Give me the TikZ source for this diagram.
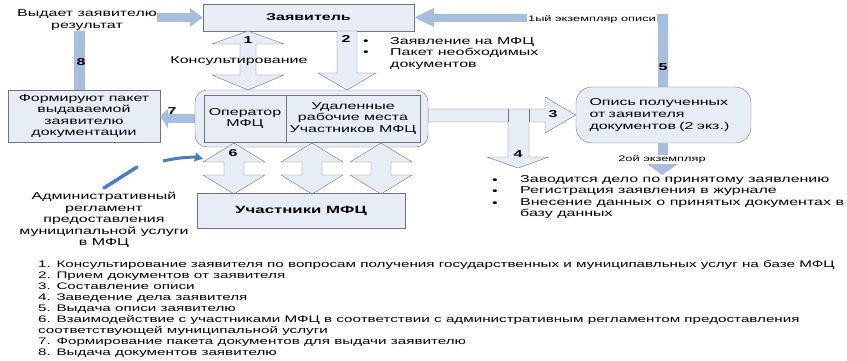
\documentclass[tikz,border=0pt]{standalone}
\usepackage{fontspec}
\setmainfont{Liberation Sans}[FakeStretch=1.6]
\usetikzlibrary{arrows.meta}
\definecolor{boxfill}{RGB}{231,237,247}
\definecolor{boxline}{RGB}{115,115,115}
\definecolor{barblue}{RGB}{168,190,222}
\definecolor{curveblue}{RGB}{74,126,194}

\begin{document}
\begin{tikzpicture}[x=1pt,y=-1pt,
    box/.style={draw=boxline, fill=boxfill, inner sep=0pt, align=center},
    blockarr/.style={draw=boxline, fill=boxfill, line join=miter},
    bar/.style={fill=barblue},
    num/.style={font=\bfseries\fontsize{10}{10}\selectfont, inner sep=0pt},
    txt/.style={font=\fontsize{10}{11.6}\selectfont, inner sep=0pt},
    tiny/.style={font=\fontsize{8}{8}\selectfont, inner sep=1pt}]
    \useasboundingbox (0,0) rectangle (847,361);
    %%Заявитель
    \node[box, minimum width=211, minimum height=27, font=\bfseries\fontsize{10}{10}\selectfont] (zayav) at (308.5,17.5) {Заявитель};
    \fill[bar] (157,13) -- (190,13) -- (190,8) -- (zayav.west) -- (190,27) -- (190,22) -- (157,22) -- cycle;
    \node[txt, align=center] (result) at (87,20) {Выдает заявителю\\результат};
    %%8
    \fill[bar] (74,31) rectangle (85,90);
    \node[num] (n8) at (81,62) {8};
    %%Формируют пакет
    \node[box, txt, minimum width=152, minimum height=52, align=center] (paket) at (84,116)
        {Формируют пакет\\выдаваемой\\заявителю\\документации};
    %%Оператор и удаленные места
    \node[num] (n7) at (172,111) {7};
    \fill[bar] (198,114) -- (168,114) -- (168,109) -- (paket.east) -- (168,129) -- (168,123) -- (198,123) -- cycle;
    \node[draw=boxline, fill=boxfill, rounded corners=12, minimum width=233, minimum height=57] (mfc) at (311.5,118.5) {};
    \node[box, txt, minimum width=82, minimum height=47] (oper) at (245,118.5) {Оператор\\МФЦ};
    \node[box, txt, minimum width=134, minimum height=47] (udal) at (353,118.5) {Удаленные\\рабочие места\\Участников МФЦ};
    %%1 Консультирование
    \draw[blockarr] (240,44) -- (212,44) -- (248,31) -- (284,44) -- (256,44) -- (256,75)
        -- (284,75) -- (248,90) -- (212,75) -- (240,75) -- cycle;
    \node[num] (n1) at (248,40) {1};
    \node[txt] (konsult) at (239,61) {Консультирование};
    %%2 прием документов
    \draw[blockarr] (337,31) -- (357,31) -- (357,73) -- (376,73) -- (347,90) -- (318,73) -- (337,73) -- cycle;
    \node[num] (n2) at (346,39) {2};
    \node[txt] (b21) at (366,42) {•};
    \node[txt] (b22) at (366,53) {•};
    \node[txt, anchor=west, align=left] (docs) at (390,53.5) {Заявление на МФЦ\\Пакет необходимых\\документов};
    %%1ый экземпляр, 5
    \fill[bar] (668,14) -- (668,88) -- (658,88) -- (658,22) -- (434,22) -- (434,27) -- (zayav.east) -- (434,8) -- (434,14) -- cycle;
    \node[tiny, fill=white] (ekz1) at (592,19) {1ый экземпляр описи};
    \node[num] (n5) at (663,67) {5};
    %%Опись
    \node[box, txt, rounded corners=16, minimum width=175, minimum height=56, text width=148, align=left] (opis) at (663.5,115)
        {Опись полученных\\от заявителя\\документов (2 экз.)};
    %%3 и 4
    \draw[blockarr] (mfc.east |- 0,109) -- (545,109) -- (545,97) -- (opis.west) -- (545,133) -- (545,122) -- (529,122)
        -- (529,157) -- (549,157) -- (518,168) -- (487,157) -- (508,157) -- (508,122) -- (mfc.east |- 0,122) -- cycle;
    \draw[boxline] (508,109) -- (508,122) (529,109) -- (529,122);
    \node[num] (n3) at (553,114) {3};
    \node[num] (n4) at (518,154) {4};
    %%2ой экземпляр
    \fill[bar] (658,143) rectangle (668,155);
    \node[tiny] (ekz2) at (662,159) {2ой экземпляр};
    \fill[bar] (647,164) -- (678,164) -- (662,175) -- cycle;
    \foreach \y in {181,192,204}
        \node[txt] at (495,\y) {•};
    \node[txt, anchor=north west, align=left] (delo) at (520,175)
        {Заводится дело по принятому заявлению\\Регистрация заявления в журнале\\Внесение данных о принятых документах в\\базу данных};
    %%6 Участники
    \foreach \cx in {234,312,381}
        \draw[blockarr] (\cx-10,162) -- (\cx-31,162) -- (\cx,143) -- (\cx+31,162) -- (\cx+10,162) -- (\cx+10,175)
            -- (\cx+31,175) -- (\cx,194) -- (\cx-31,175) -- (\cx-10,175) -- cycle;
    \node[num] (n6) at (233,153) {6};
    \node[box, minimum width=208, minimum height=35, font=\bfseries\fontsize{10.5}{10.5}\selectfont] (uch) at (301,210.5) {Участники МФЦ};
    %%регламент
    \draw[curveblue, line width=3, -{Latex[length=9,width=10]}] (163,161) .. controls (180,157) and (195,157) .. (oper.south west |- 0,159);
    \draw[curveblue, line width=3.5, line cap=round] (104,188) -- (137,167);
    \node[txt, align=center] (reglam) at (104,220)
        {Административный\\регламент\\предоставления\\муниципальной услуги\\в МФЦ};
    %%список
    \node[anchor=north west, align=left, inner sep=0pt, font=\fontsize{9.5}{11.1}\selectfont] (legend) at (38,260)
        {1. Консультирование заявителя по вопросам получения государственных и муниципавльных услуг на базе МФЦ\\
         2. Прием документов от заявителя\\
         3. Составление описи\\
         4. Заведение дела заявителя\\
         5. Выдача описи заявителю\\
         6. Взаимодействие с участниками МФЦ в соответствии с административным регламентом предоставления\\
         соответствующей муниципальной услуги\\
         7. Формирование пакета документов для выдачи заявителю\\
         8. Выдача документов заявителю};
\end{tikzpicture}
\end{document}
